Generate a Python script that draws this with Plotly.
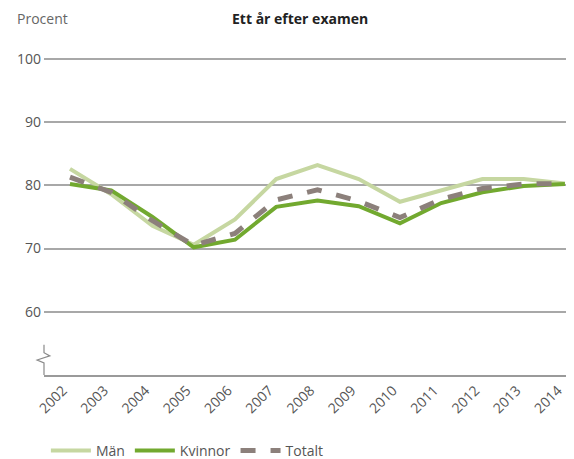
import plotly.graph_objects as go

years = [2002, 2003, 2004, 2005, 2006, 2007, 2008, 2009, 2010, 2011, 2012, 2013, 2014]
man = [82.6, 78.6, 73.6, 70.6, 74.6, 81.0, 83.2, 81.0, 77.4, 79.2, 81.0, 81.0, 80.3]
kvinnor = [80.2, 79.2, 75.0, 70.2, 71.4, 76.6, 77.6, 76.7, 74.0, 77.2, 78.9, 79.9, 80.2]
totalt = [81.3, 78.9, 74.4, 70.5, 72.4, 77.7, 79.3, 77.5, 74.9, 77.8, 79.5, 80.2, 80.3]
ytick_vals = [60, 70, 80, 90, 100]

FONT = "Open Sans"
fig = go.Figure()
fig.add_trace(go.Scatter(x=years, y=man, name="Män", mode="lines",
                         line=dict(color="#c6d7a1", width=4)))
fig.add_trace(go.Scatter(x=years, y=kvinnor, name="Kvinnor", mode="lines",
                         line=dict(color="#72a92f", width=4)))
fig.add_trace(go.Scatter(x=years, y=totalt, name="Totalt", mode="lines",
                         line=dict(color="#8c807b", width=5, dash="dash")))

# page body has an 8px default margin, so margins are offset by 8px
fig.update_layout(
    width=574, height=459,
    margin=dict(l=36, r=8, t=49, b=92),
    paper_bgcolor="white", plot_bgcolor="white",
    font=dict(family=FONT, color="#555555", size=14),
    showlegend=True,
    legend=dict(orientation="h", xref="container", yref="container",
                x=0.066, y=0.035, xanchor="left", yanchor="middle",
                font=dict(size=14, color="#555555"), itemwidth=40,
                traceorder="normal"),
    xaxis=dict(range=[2001.37, 2014.22], tickvals=years,
               ticktext=[str(y) for y in years], tickangle=-45,
               showgrid=False, zeroline=False, showline=True,
               linecolor="#9a9a9a", linewidth=1.5, ticks="",
               automargin=False, ticklabelshift=-7,
               tickfont=dict(size=14, color="#555555")),
    yaxis=dict(range=[50, 100.3], tickvals=ytick_vals,
               showgrid=True, gridcolor="#a8a8a8", gridwidth=1.5,
               zeroline=False, showline=False, ticks="",
               automargin=False, ticklabelstandoff=2,
               tickfont=dict(size=14, color="#555555")),
    annotations=[
        dict(text="Procent", xref="paper", yref="paper", x=-0.055, y=1.12,
             xanchor="left", yanchor="middle", showarrow=False,
             font=dict(size=14, color="#666666", family=FONT)),
        dict(text="<b>Ett år efter examen</b>", xref="paper", yref="paper",
             x=0.483, y=1.12, xanchor="center", yanchor="middle", showarrow=False,
             font=dict(size=14, color="#222222", family=FONT)),
    ],
    shapes=[
        dict(type="path", xref="paper", yref="paper",
             path="M 0 0 L 0 0.038 L -0.013 0.047 L 0.011 0.06 L 0 0.07 L 0 0.095",
             line=dict(color="#8a8a8a", width=1.2)),
    ],
)

fig.write_html("out.html")
